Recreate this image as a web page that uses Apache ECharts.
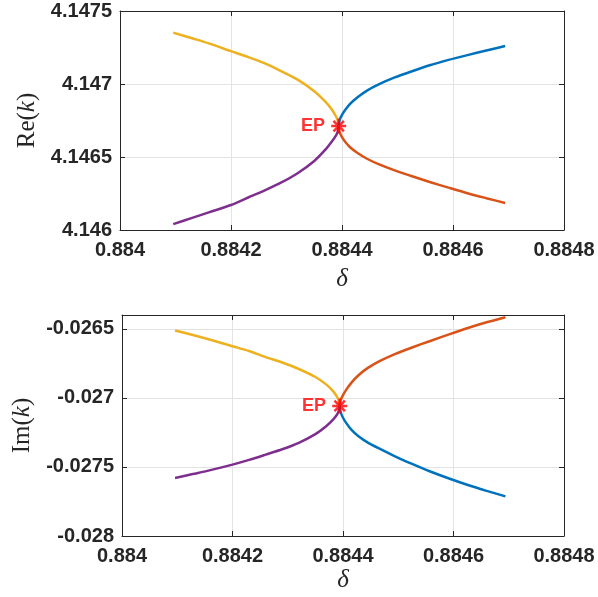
<!DOCTYPE html>
<html>
<head>
<meta charset="utf-8">
<script src="https://cdn.jsdelivr.net/npm/echarts@6/dist/echarts.min.js"></script>
<style>
  html, body { margin: 0; padding: 0; background: #fff; }
  #chart { width: 598px; height: 597px; }
</style>
</head>
<body>
<div id="chart"></div>
<script>
// δ values, left branches (end at EP) and right branches (start at EP)
const deltaLeft = [0.884096, 0.88413, 0.88416, 0.8842, 0.88423, 0.88426, 0.88429, 0.88432, 0.88435, 0.88437, 0.884382, 0.884389, 0.884392, 0.884394];
const deltaRight = [0.884394, 0.884396, 0.8844, 0.884406, 0.884415, 0.884428, 0.884445, 0.884467, 0.884495, 0.884525, 0.884558, 0.884592, 0.884626, 0.88466, 0.884694];

// Re(k)
const reYellow = [4.147352, 4.147313, 4.147278, 4.147225, 4.147186, 4.147143, 4.147089, 4.14703, 4.146951, 4.146879, 4.146823, 4.146779, 4.146754, 4.146712];
const rePurple = [4.14604, 4.146083, 4.146121, 4.146171, 4.146221, 4.14627, 4.146324, 4.146389, 4.146473, 4.14655, 4.146608, 4.146647, 4.146671, 4.146712];
const reBlue = [4.146712, 4.146756, 4.146788, 4.146823, 4.146865, 4.146909, 4.146955, 4.146999, 4.147045, 4.147086, 4.147128, 4.147165, 4.147198, 4.147229, 4.14726];
const reOrange = [4.146712, 4.146668, 4.146636, 4.146603, 4.146565, 4.146527, 4.146488, 4.146449, 4.146408, 4.14637, 4.146329, 4.14629, 4.146252, 4.146218, 4.146185];

// Im(k)
const imYellow = [-0.026512, -0.026546, -0.026579, -0.026626, -0.026661, -0.026705, -0.026744, -0.026791, -0.026849, -0.026904, -0.026951, -0.026991, -0.027016, -0.027058];
const imPurple = [-0.02758, -0.02755, -0.027523, -0.027483, -0.027449, -0.027411, -0.027372, -0.027325, -0.027262, -0.027203, -0.027157, -0.027122, -0.027098, -0.027058];
const imOrange = [-0.027058, -0.027014, -0.02698, -0.02694, -0.026891, -0.026836, -0.026783, -0.026732, -0.026681, -0.026635, -0.026588, -0.02654, -0.026494, -0.026453, -0.026416];
const imBlue = [-0.027058, -0.027106, -0.027144, -0.027183, -0.02723, -0.027278, -0.027324, -0.02737, -0.027425, -0.027478, -0.027533, -0.027584, -0.027631, -0.027673, -0.027713];

// exceptional point
const epDelta = 0.884394;
const epRe = 4.146712;
const epIm = -0.027058;

const AXIS = '#262626';
const GRID = '#e3e3e3';
const C_BLUE = '#0072BD', C_ORANGE = '#D95319', C_YELLOW = '#EDB120', C_PURPLE = '#7E2F8E';
const TICK_FONT = { fontFamily: 'Liberation Sans, Arial, sans-serif', fontWeight: 'bold', fontSize: 20, color: AXIS };
const SERIF = 'Liberation Serif, Times New Roman, serif';

function pairs(xs, ys) {
  return xs.map((x, i) => [x, ys[i]]);
}

function mainX(gridIndex, gap) {
  return {
    type: 'value', gridIndex, min: 0.884, max: 0.8848, interval: 0.0002,
    name: 'δ', nameLocation: 'middle', nameGap: gap,
    nameTextStyle: { fontFamily: SERIF, fontStyle: 'italic', fontSize: 25, color: AXIS },
    axisLine: { show: true, onZero: false, lineStyle: { color: AXIS, width: 1 } },
    axisTick: { show: true, inside: true, length: 5, lineStyle: { color: AXIS } },
    axisLabel: Object.assign({ margin: 10 }, TICK_FONT),
    splitLine: { show: true, lineStyle: { color: GRID, width: 1 } },
  };
}

function boxX(gridIndex) {
  return {
    type: 'value', gridIndex, position: 'top', min: 0.884, max: 0.8848, interval: 0.0002,
    axisLine: { show: true, onZero: false, lineStyle: { color: AXIS, width: 1 } },
    axisTick: { show: true, inside: true, length: 5, lineStyle: { color: AXIS } },
    axisLabel: { show: false },
    splitLine: { show: false },
  };
}

function mainY(gridIndex, min, max, label, gap, extra) {
  return Object.assign({
    type: 'value', gridIndex, min, max, interval: 0.0005,
    name: '{r|' + label + '(}{i|k}{r|)}', nameLocation: 'middle', nameGap: gap, nameRotate: 90,
    nameTextStyle: {
      rich: {
        r: { fontFamily: SERIF, fontSize: 25, color: AXIS },
        i: { fontFamily: SERIF, fontStyle: 'italic', fontSize: 25, color: AXIS },
      },
    },
    axisLine: { show: true, onZero: false, lineStyle: { color: AXIS, width: 1 } },
    axisTick: { show: true, inside: true, length: 5, lineStyle: { color: AXIS } },
    axisLabel: Object.assign({ margin: 8 }, TICK_FONT),
    splitLine: { show: true, lineStyle: { color: GRID, width: 1 } },
  }, extra || {});
}

function boxY(gridIndex, min, max) {
  return {
    type: 'value', gridIndex, position: 'right', min, max, interval: 0.0005,
    axisLine: { show: true, onZero: false, lineStyle: { color: AXIS, width: 1 } },
    axisTick: { show: true, inside: true, length: 5, lineStyle: { color: AXIS } },
    axisLabel: { show: false },
    splitLine: { show: false },
  };
}

function curve(xIdx, yIdx, xs, ys, color) {
  return {
    type: 'line', xAxisIndex: xIdx, yAxisIndex: yIdx,
    data: pairs(xs, ys), smooth: 0.25, showSymbol: false,
    lineStyle: { color, width: 2.5 }, itemStyle: { color },
    z: 2,
  };
}

// MATLAB-style asterisk marker
const starPath = 'path://M10,0L10,20M0,10L20,10M3,3L17,17M3,17L17,3';

function epMark(xIdx, yIdx, y) {
  return {
    type: 'scatter', xAxisIndex: xIdx, yAxisIndex: yIdx,
    data: [[epDelta, y]],
    symbol: starPath, symbolSize: 15,
    itemStyle: { color: 'transparent', borderColor: '#ff0000', borderWidth: 2.5 },
    label: {
      show: true, position: 'left', distance: 5, formatter: 'EP',
      fontFamily: 'Liberation Sans, Arial, sans-serif', fontWeight: 'bold', fontSize: 18, color: '#ff0000',
    },
    z: 5,
  };
}

const chart = echarts.init(document.getElementById('chart'));
chart.setOption({
  animation: false,
  backgroundColor: '#ffffff',
  grid: [
    { left: 120, top: 11, width: 444, height: 219 },
    { left: 122, top: 315, width: 442, height: 221 },
  ],
  xAxis: [mainX(0, 37), boxX(0), mainX(1, 32), boxX(1)],
  yAxis: [
    mainY(0, 4.146, 4.1475, 'Re', 77),
    boxY(0, 4.146, 4.1475),
    mainY(1, -0.028, -0.0264, 'Im', 84, { axisLabel: Object.assign({ margin: 8, showMaxLabel: false }, TICK_FONT) }),
    boxY(1, -0.028, -0.0264),
  ],
  series: [
    curve(0, 0, deltaLeft, reYellow, C_YELLOW),
    curve(0, 0, deltaLeft, rePurple, C_PURPLE),
    curve(0, 0, deltaRight, reBlue, C_BLUE),
    curve(0, 0, deltaRight, reOrange, C_ORANGE),
    epMark(0, 0, epRe),
    curve(2, 2, deltaLeft, imYellow, C_YELLOW),
    curve(2, 2, deltaLeft, imPurple, C_PURPLE),
    curve(2, 2, deltaRight, imOrange, C_ORANGE),
    curve(2, 2, deltaRight, imBlue, C_BLUE),
    epMark(2, 2, epIm),
  ],
});
</script>
</body>
</html>
